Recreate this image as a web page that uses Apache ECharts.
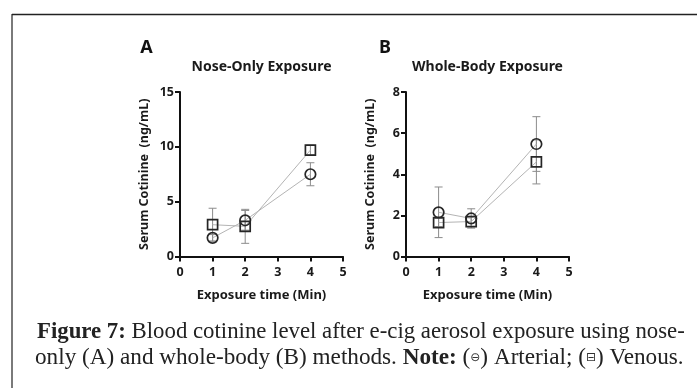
<!DOCTYPE html>
<html>
<head>
<meta charset="utf-8">
<script src="https://cdn.jsdelivr.net/npm/echarts@6/dist/echarts.min.js"></script>
<style>
html,body{margin:0;padding:0;background:#fff;}
#c{width:697px;height:388px;}
</style>
</head>
<body>
<div id="c"></div>
<script>
// ---- data ----
const xValues = [1, 2, 4];
const xTicks = [0, 1, 2, 3, 4, 5];
// Panel A: Nose-Only Exposure
const arterialA = [1.7, 3.3, 7.5];
const arterialAErr = [0.3, 0.9, 1.05];
const venousA = [2.9, 2.75, 9.7];
const venousAErr = [1.5, 1.55, 0.45];
// Panel B: Whole-Body Exposure
const arterialB = [2.15, 1.85, 5.47];
const arterialBErr = [1.23, 0.47, 1.33];
const venousB = [1.65, 1.7, 4.6];
const venousBErr = [0.2, 0.25, 1.07];
const yTicksA = [0, 5, 10, 15];
const yTicksB = [0, 2, 4, 6, 8];

const FONT = '"Noto Sans", "Open Sans", sans-serif';
const chart = echarts.init(document.getElementById('c'), null, {renderer: 'canvas'});

function errSeries(idx, means, errs) {
  return {
    type: 'custom', xAxisIndex: idx, yAxisIndex: idx, z: 1, silent: true,
    encode: {x: 0, y: [1, 2]},
    data: xValues.map((x, i) => [x, means[i] - errs[i], means[i] + errs[i]]),
    renderItem: (params, api) => {
      const lo = api.coord([api.value(0), api.value(1)]);
      const hi = api.coord([api.value(0), api.value(2)]);
      const w = 4;
      const style = {stroke: '#8c8c8c', lineWidth: 1, fill: null};
      return {type: 'group', children: [
        {type: 'line', shape: {x1: hi[0], y1: hi[1], x2: lo[0], y2: lo[1]}, style},
        {type: 'line', shape: {x1: hi[0] - w, y1: hi[1], x2: hi[0] + w, y2: hi[1]}, style},
        {type: 'line', shape: {x1: lo[0] - w, y1: lo[1], x2: lo[0] + w, y2: lo[1]}, style}
      ]};
    }
  };
}
function lineSeries(idx, name, vals, symbol, size) {
  return {
    type: 'line', name, xAxisIndex: idx, yAxisIndex: idx, z: 3,
    data: xValues.map((x, i) => [x, vals[i]]),
    symbol, symbolSize: size, showSymbol: true,
    itemStyle: {color: 'rgba(0,0,0,0)', borderColor: '#262626', borderWidth: 1.7},
    lineStyle: {color: '#b4b4b4', width: 1},
    emphasis: {disabled: true}, silent: true
  };
}
function xAxis(idx) {
  return {
    type: 'value', gridIndex: idx, min: 0, max: 5, interval: 1,
    name: 'Exposure time (Min)', nameLocation: 'middle', nameGap: 32,
    nameTextStyle: {fontFamily: FONT, fontWeight: 'bold', fontSize: 13, color: '#1a1a1a'},
    axisLine: {onZero: false, lineStyle: {color: '#111', width: 2}},
    axisTick: {show: true, length: 5, inside: false, lineStyle: {color: '#111', width: 2}},
    axisLabel: {fontFamily: FONT, fontWeight: 'bold', fontSize: 12.5, color: '#1a1a1a', margin: 9,
      formatter: v => xTicks.includes(v) ? String(v) : ''},
    splitLine: {show: false}
  };
}
function yAxis(idx, max, interval, ticks) {
  return {
    type: 'value', gridIndex: idx, min: 0, max, interval,
    name: 'Serum Cotinine  (ng/mL)', nameLocation: 'middle', nameGap: 29,
    nameTextStyle: {fontFamily: FONT, fontWeight: 'bold', fontSize: 12.5, color: '#1a1a1a'},
    axisLine: {show: true, lineStyle: {color: '#111', width: 2}},
    axisTick: {show: true, length: 5, lineStyle: {color: '#111', width: 2}},
    axisLabel: {fontFamily: FONT, fontWeight: 'bold', fontSize: 12.5, color: '#1a1a1a', margin: 6,
      formatter: v => ticks.includes(v) ? String(v) : ''},
    splitLine: {show: false}
  };
}

const serif = '"Liberation Serif", "DejaVu Serif", serif';
chart.setOption({
  animation: false,
  backgroundColor: '#fff',
  grid: [
    {left: 180, top: 92, width: 163, height: 164.5},
    {left: 406, top: 92, width: 163, height: 164.5}
  ],
  xAxis: [xAxis(0), xAxis(1)],
  yAxis: [yAxis(0, 15, 5, yTicksA), yAxis(1, 8, 2, yTicksB)],
  series: [
    errSeries(0, arterialA, arterialAErr),
    errSeries(0, venousA, venousAErr),
    lineSeries(0, 'Arterial', arterialA, 'circle', 10.5),
    lineSeries(0, 'Venous', venousA, 'rect', 10),
    errSeries(1, arterialB, arterialBErr),
    errSeries(1, venousB, venousBErr),
    lineSeries(1, 'Arterial', arterialB, 'circle', 10.5),
    lineSeries(1, 'Venous', venousB, 'rect', 10)
  ],
  graphic: [
    {type: 'line', shape: {x1: 12, y1: 14, x2: 12, y2: 388}, style: {stroke: '#7a7a7a', lineWidth: 2}},
    {type: 'line', shape: {x1: 12, y1: 14.5, x2: 697, y2: 14.5}, style: {stroke: '#222', lineWidth: 1.5}},
    {type: 'text', x: 146.5, y: 48, style: {text: 'A', fontFamily: FONT, fontWeight: 'bold', fontSize: 18, fill: '#111', align: 'center', verticalAlign: 'middle'}},
    {type: 'text', x: 385, y: 48, style: {text: 'B', fontFamily: FONT, fontWeight: 'bold', fontSize: 18, fill: '#111', align: 'center', verticalAlign: 'middle'}},
    {type: 'text', x: 261.5, y: 67, style: {text: 'Nose-Only Exposure', fontFamily: FONT, fontWeight: 'bold', fontSize: 14, fill: '#1a1a1a', align: 'center', verticalAlign: 'middle'}},
    {type: 'text', x: 487.5, y: 67, style: {text: 'Whole-Body Exposure', fontFamily: FONT, fontWeight: 'bold', fontSize: 14, fill: '#1a1a1a', align: 'center', verticalAlign: 'middle'}},
    {type: 'text', x: 37, y: 332, style: {
      text: '{b|Figure 7:} Blood cotinine level after e-cig aerosol exposure using nose-',
      fontFamily: serif, fontSize: 22.8, fill: '#222', verticalAlign: 'middle',
      rich: {b: {fontFamily: serif, fontSize: 22.8, fontWeight: 'bold', fill: '#222'}}}},
    {type: 'text', x: 35, y: 358, style: {
      text: 'only (A) and whole-body (B) methods. {b|Note:} ({s|⊖}) Arterial; ({s|⊟}) Venous.',
      fontFamily: serif, fontSize: 23.2, fill: '#222', verticalAlign: 'middle',
      rich: {b: {fontFamily: serif, fontSize: 23.2, fontWeight: 'bold', fill: '#222'},
             s: {fontFamily: '"DejaVu Sans"', fontSize: 12, fill: '#333'}}}}
  ]
});
</script>
</body>
</html>
